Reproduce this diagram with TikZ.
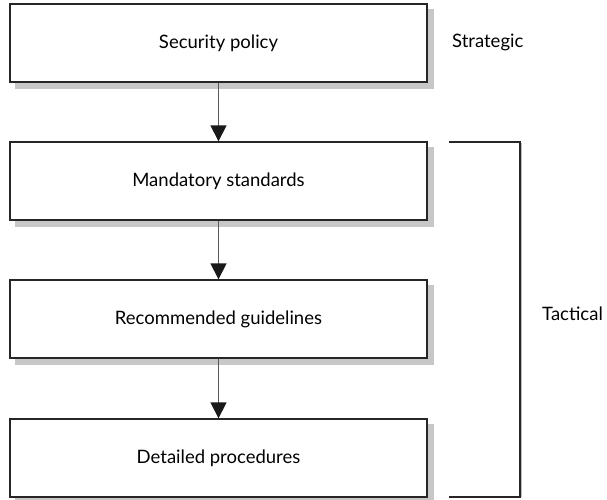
\documentclass[tikz,border=0pt]{standalone}
\usepackage{fontspec}
\setmainfont{Lato}
\usetikzlibrary{arrows.meta,backgrounds}
\begin{document}
\begin{tikzpicture}[x=1pt,y=-1pt,
  levelbox/.style={draw=black!85,line width=1.4pt,fill=white,
    minimum width=417pt,minimum height=78pt,inner sep=0pt,
    font=\fontsize{18.5}{22}\selectfont},
  boxshadow/.style={fill=black!22},
  flow/.style={draw=black!65,line width=1.6pt,
    -{Triangle[width=16pt,length=16pt,color=black!90]}},
  sidelabel/.style={anchor=west,inner sep=0pt,font=\fontsize{18.5}{22}\selectfont},
  bracket/.style={draw=black!85,line width=1.4pt}
]
\useasboundingbox (0,0) rectangle (607,499);

% the four levels of the hierarchy
\node[levelbox] (sp) at (218.5,43)  {Security policy};
\node[levelbox] (ms) at (218.5,181) {Mandatory standards};
\node[levelbox] (rg) at (218.5,319) {Recommended guidelines};
\node[levelbox] (dp) at (218.5,458) {Detailed procedures};

% offset grey shadows behind the boxes
\begin{scope}[on background layer]
  \foreach \b in {sp,ms,rg,dp}
    \fill[boxshadow] ([shift={(6,6)}]\b.north west) rectangle ([shift={(6,6)}]\b.south east);
\end{scope}

% downward flow between levels
\draw[flow] (sp.south) -- (ms.north);
\draw[flow] (ms.south) -- (rg.north);
\draw[flow] (rg.south) -- (dp.north);

% strategic label
\node[sidelabel] (st) at (452,42) {Strategic};

% tactical bracket spanning the lower three levels
\coordinate (bt) at (449,142);
\coordinate (bb) at (449,497);
\draw[draw=black!25,line width=1.4pt] (521.5,143) -- (521.5,497);
\draw[bracket] (bt) -- ++(71,0) |- (bb);
\node[sidelabel] (ta) at (542,314) {Tactical};
\end{tikzpicture}
\end{document}
